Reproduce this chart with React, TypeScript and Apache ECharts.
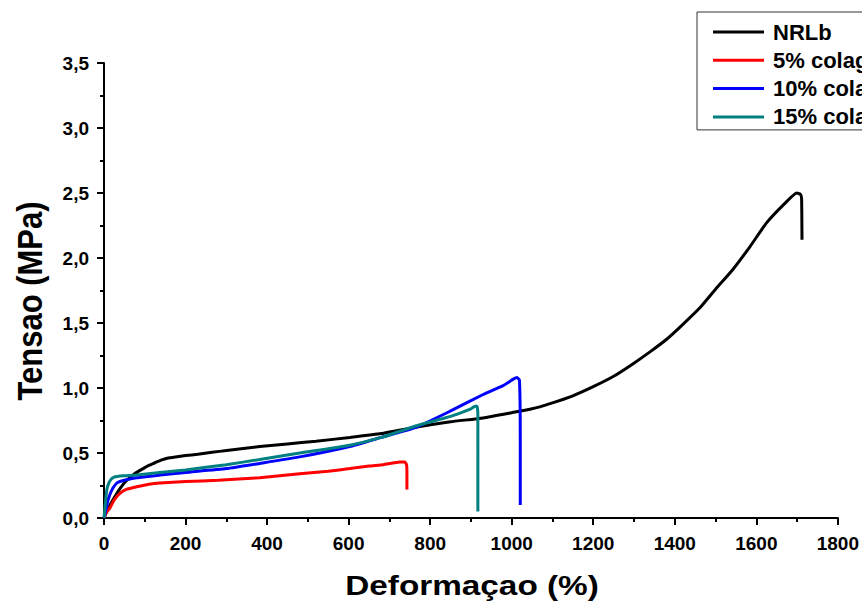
import React, { useEffect, useRef } from "react";
import * as echarts from "echarts";

const seriesNames = ["NRLb", "5% colageno", "10% colageno", "15% colageno"];
const seriesColors = ["#000000", "#ff0000", "#0000ff", "#008080"];

const nrlbX = [0, 10, 22, 40, 56, 75, 96, 110, 125, 140, 155, 175, 200, 230, 265, 301, 382, 450, 520, 603, 680, 767, 850, 930, 1000, 1050, 1094, 1150, 1200, 1250, 1297, 1340, 1380, 1420, 1461, 1500, 1542, 1585, 1625, 1670, 1699, 1708, 1711, 1712];
const nrlbY = [0, 0.07, 0.14, 0.23, 0.29, 0.34, 0.38, 0.405, 0.425, 0.445, 0.46, 0.47, 0.48, 0.49, 0.505, 0.52, 0.55, 0.57, 0.59, 0.62, 0.65, 0.7, 0.74, 0.77, 0.81, 0.84, 0.88, 0.94, 1.01, 1.09, 1.185, 1.28, 1.375, 1.49, 1.615, 1.76, 1.91, 2.09, 2.27, 2.42, 2.5, 2.49, 2.46, 2.14];

const c5X = [0, 5, 15, 25, 39, 55, 80, 110, 137, 200, 280, 382, 480, 550, 603, 650, 685, 726, 738, 742, 743, 743];
const c5Y = [0, 0.04, 0.08, 0.14, 0.19, 0.22, 0.24, 0.26, 0.27, 0.28, 0.29, 0.31, 0.34, 0.36, 0.38, 0.4, 0.41, 0.43, 0.43, 0.41, 0.36, 0.22];

const c10X = [0, 5, 10, 20, 32, 50, 80, 137, 200, 300, 382, 480, 603, 680, 767, 848, 930, 980, 1005, 1013, 1019, 1021, 1021];
const c10Y = [0, 0.07, 0.14, 0.22, 0.27, 0.29, 0.31, 0.33, 0.35, 0.38, 0.42, 0.47, 0.55, 0.62, 0.7, 0.82, 0.95, 1.02, 1.07, 1.08, 1.06, 0.6, 0.1];

const c15X = [0, 3, 7, 12, 18, 25, 32, 50, 80, 137, 200, 300, 382, 480, 603, 680, 767, 848, 900, 910, 915, 917, 917];
const c15Y = [0, 0.1, 0.22, 0.27, 0.3, 0.315, 0.32, 0.325, 0.33, 0.35, 0.37, 0.41, 0.45, 0.5, 0.56, 0.62, 0.71, 0.78, 0.84, 0.86, 0.86, 0.8, 0.05];

const allX = [nrlbX, c5X, c10X, c15X];
const allY = [nrlbY, c5Y, c10Y, c15Y];

const xAxisTitle = "Deformaçao (%)";
const yAxisTitle = "Tensao (MPa)";

const FONT = "'Liberation Sans', Arial, sans-serif";

export default function App() {
  const ref = useRef<HTMLDivElement>(null);
  useEffect(() => {
    if (!ref.current) return;
    const chart = echarts.init(ref.current, null, { renderer: "svg" });
    const series = seriesNames.map((name, i) => ({
      name,
      type: "line",
      data: allX[i].map((x, j) => [x, allY[i][j]]),
      showSymbol: false,
      symbol: "none",
      smooth: 0.15,
      lineStyle: { color: seriesColors[i], width: 3 },
      itemStyle: { color: seriesColors[i] },
      z: 2 + i,
    }));
    chart.setOption({
      animation: false,
      backgroundColor: "#ffffff",
      grid: { left: 104, right: 24, top: 63, bottom: 87 },
      legend: {
        orient: "vertical",
        left: 697,
        top: 12,
        padding: [9, 100, 2, 16],
        itemGap: 6.3,
        itemWidth: 51,
        itemHeight: 3,
        icon: "rect",
        backgroundColor: "#ffffff",
        borderColor: "#333333",
        borderWidth: 1,
        textStyle: { fontFamily: FONT, fontWeight: "bold", fontSize: 22, color: "#000", lineHeight: 22, padding: [0, 0, 0, 4] },
        data: seriesNames,
      },
      xAxis: {
        type: "value",
        min: 0,
        max: 1800,
        interval: 200,
        axisLine: { show: true, lineStyle: { color: "#000", width: 2 } },
        axisTick: { show: true, inside: false, length: 7, lineStyle: { color: "#000", width: 2 } },
        minorTick: { show: true, splitNumber: 2, length: 4, lineStyle: { color: "#000", width: 2 } },
        axisLabel: {
          fontFamily: FONT,
          fontWeight: "bold",
          fontSize: 19,
          color: "#000",
          margin: 16,
          formatter: (v: number) => String(v),
        },
        splitLine: { show: false },
      },
      yAxis: {
        type: "value",
        min: 0,
        max: 3.5,
        interval: 0.5,
        axisLine: { show: true, lineStyle: { color: "#000", width: 2 } },
        axisTick: { show: true, inside: false, length: 7, lineStyle: { color: "#000", width: 2 } },
        minorTick: { show: true, splitNumber: 2, length: 4, lineStyle: { color: "#000", width: 2 } },
        axisLabel: {
          fontFamily: FONT,
          fontWeight: "bold",
          fontSize: 19,
          color: "#000",
          margin: 15,
          formatter: (v: number) => v.toFixed(1).replace(".", ","),
        },
        splitLine: { show: false },
      },
      graphic: [
        {
          type: "text",
          x: 30,
          y: 301,
          rotation: Math.PI / 2,
          scaleY: 1.12,
          style: {
            text: yAxisTitle,
            fontFamily: FONT,
            fontWeight: "bold",
            fontSize: 31,
            fill: "#000",
            textAlign: "center",
            textVerticalAlign: "middle",
          },
        },
        {
          type: "text",
          x: 472,
          y: 585,
          scaleX: 1.19,
          style: {
            text: xAxisTitle,
            fontFamily: FONT,
            fontWeight: "bold",
            fontSize: 28,
            fill: "#000",
            textAlign: "center",
            textVerticalAlign: "middle",
          },
        },
      ],
      series,
    });
    return () => chart.dispose();
  }, []);
  return <div ref={ref} style={{ width: 862, height: 605, position: "absolute", left: 0, top: 0 }} />;
}
